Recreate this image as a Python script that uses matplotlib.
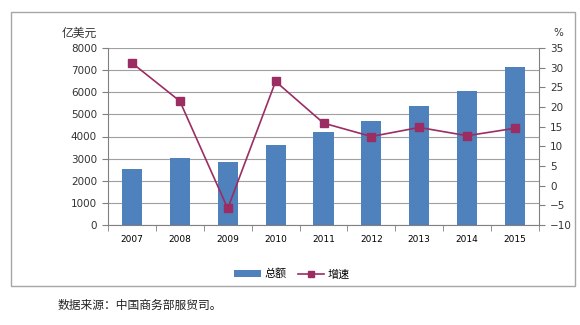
import matplotlib.pyplot as plt
import numpy as np
from matplotlib.patches import Rectangle

plt.rcParams['font.family'] = ['DejaVu Sans', 'Noto Sans CJK SC']

years = ['2007', '2008', '2009', '2010', '2011', '2012', '2013', '2014', '2015']
total = [2509, 3045, 2868, 3624, 4191, 4706, 5396, 6043, 7130]
growth = [31.2, 21.5, -5.8, 26.5, 15.9, 12.5, 14.8, 12.7, 14.6]

bar_color = '#4F81BD'
line_color = '#9B2D62'
cjk = ['Noto Sans CJK SC', 'DejaVu Sans']

fig = plt.figure(figsize=(5.8, 3.25), dpi=100)
W, H = 580, 325

# outer frame around chart area
fig.patches.append(Rectangle((11 / W, 1 - 286 / H), 564 / W, 274 / H,
                             transform=fig.transFigure, fill=False,
                             edgecolor='#A6A6A6', lw=1.0))

ax = fig.add_axes([108 / W, 1 - 225 / H, 431 / W, 177 / H])
x = np.arange(len(years))
ax.bar(x, total, width=0.42, color=bar_color, zorder=2, label='总额')
ax.set_xlim(-0.5, len(years) - 0.5)
ax.set_ylim(0, 8000)
ax.set_yticks(range(0, 8001, 1000))
ax.yaxis.grid(True, color='#A0A0A0', lw=0.8, zorder=0)
ax.set_axisbelow(True)
ax.set_xticks(x)
ax.set_xticklabels(years, fontsize=6.5)
ax.tick_params(axis='x', which='major', length=0, pad=7)
ax.set_xticks(np.arange(-0.5, len(years), 1), minor=True)
ax.tick_params(axis='x', which='minor', length=4, color='#808080', direction='out')
ax.tick_params(axis='y', labelsize=7.5, length=4, color='#808080', pad=4, labelcolor='#333333')
for s in ['top', 'right']:
    ax.spines[s].set_visible(False)
for s in ['left', 'bottom']:
    ax.spines[s].set_color('#808080')

ax2 = ax.twinx()
ax2.plot(x, growth, color=line_color, lw=1.2, marker='s', markersize=6,
         markerfacecolor=line_color, markeredgecolor=line_color, zorder=3, label='增速')
ax2.set_ylim(-10, 35)
ax2.set_yticks(range(-10, 36, 5))
ax2.set_yticklabels([str(v).replace('-', '−') for v in range(-10, 36, 5)])
ax2.tick_params(axis='y', labelsize=7.5, length=4, color='#808080', pad=4, labelcolor='#333333')
for s in ['top', 'left', 'bottom']:
    ax2.spines[s].set_visible(False)
ax2.spines['right'].set_color('#808080')

fig.text(62 / W, 1 - 33 / H, '亿美元', family=cjk, fontsize=8.5, va='center', color='#333333')
fig.text(553 / W, 1 - 33 / H, '%', fontsize=7.5, va='center', color='#333333')

h1, l1 = ax.get_legend_handles_labels()
h2, l2 = ax2.get_legend_handles_labels()
fig.legend(h1 + h2, l1 + l2, loc='center', bbox_to_anchor=(292 / W, 1 - 274 / H),
           ncol=2, frameon=False, prop={'family': cjk, 'size': 8},
           handlelength=2.4, handleheight=0.5, markerscale=0.75,
           columnspacing=1.0, handletextpad=0.3)

fig.text(58 / W, 1 - 305 / H, '数据来源：中国商务部服贸司。', family=cjk,
         fontsize=8.5, va='center', color='#222222')

fig.savefig('out.png', dpi=100)
